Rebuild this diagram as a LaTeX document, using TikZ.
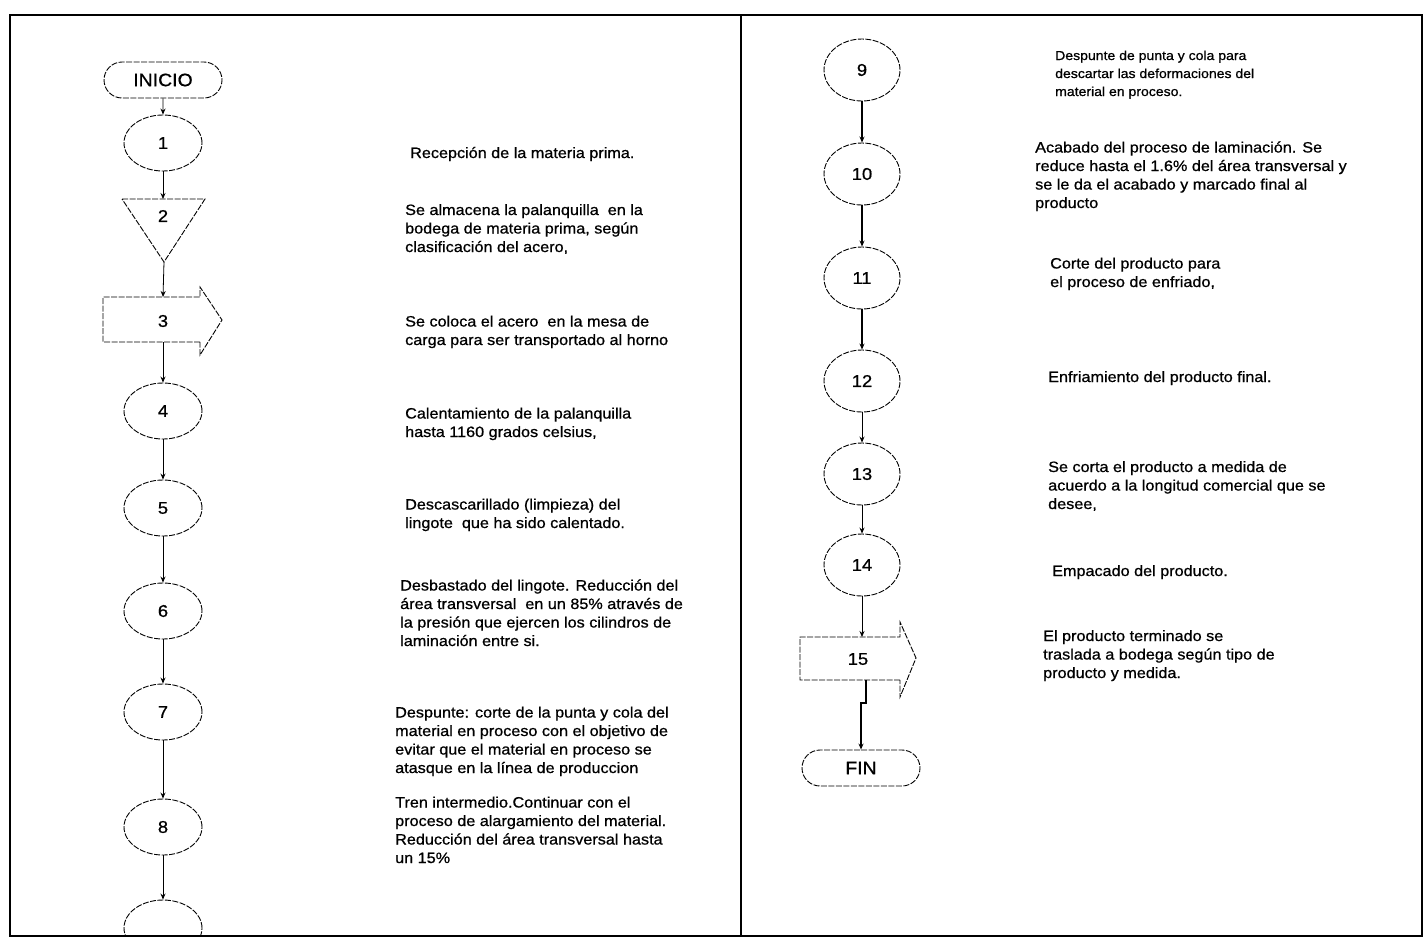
\documentclass[tikz,border=0pt]{standalone}
\usepackage{fontspec}
\setmainfont{Liberation Sans}[FakeStretch=1.08,FakeBold=0.8]
\usetikzlibrary{shapes.geometric,shapes.misc,arrows.meta}
\begin{document}
\begin{tikzpicture}[x=1pt,y=-1pt,
  shp/.style={draw, line width=0.9pt, dash pattern=on 6pt off 1.5pt, inner sep=0pt, font=\fontsize{17}{17}\selectfont},
  oval/.style={shp, ellipse, minimum width=78pt, minimum height=56pt},
  ovalr/.style={shp, ellipse, minimum width=76pt, minimum height=62pt},
  term/.style={shp, rounded rectangle, minimum width=118pt, minimum height=36pt, font=\fontsize{18}{18}\selectfont},
  lbl/.style={inner sep=0pt, font=\fontsize{17}{17}\selectfont},
  flow/.style={-{Stealth[length=6pt,width=5pt]}, line width=0.8pt},
  flowr/.style={-{Stealth[length=6pt,width=5pt]}, line width=1.2pt},
  desc/.style={anchor=base west, align=left, inner sep=0pt, font=\fontsize{15}{18.5}\selectfont},
  descs/.style={desc, font=\fontsize{13}{18}\selectfont},
  frame/.style={line width=1.4pt}]
\useasboundingbox (0,0) rectangle (1426,940);
% frame
\draw[frame] (10,15) rectangle (1422,936);
\draw[frame] (741,15) -- (741,936);

% ---------------- left column ----------------
\node[term] (ini) at (163,80) {INICIO};
\node[oval] (n1) at (163,143) {1};
\draw[shp] (122,199) -- (205,199) -- (164,262) -- cycle;
\coordinate (t2top) at (163,199);
\coordinate (t2apex) at (164,262);
\node[lbl] (n2) at (163,216) {2};
\draw[shp] (200,342) -- (103,342) -- (103,297) -- (200,297) -- (200,287) -- (222,320) -- (200,355) -- cycle;
\coordinate (a3top) at (163,297);
\coordinate (a3bot) at (163,342);
\node[lbl] (n3) at (163,321) {3};
\node[oval] (n4) at (163,411) {4};
\node[oval] (n5) at (163,508) {5};
\node[oval] (n6) at (163,611) {6};
\node[oval] (n7) at (163,712) {7};
\node[oval] (n8) at (163,827) {8};
\begin{scope}
\clip (100,880) rectangle (230,935);
\node[oval] (n9a) at (163,928) {};
\end{scope}

\draw[flow] (ini) -- (n1);
\draw[flow] (n1) -- (t2top);
\draw[flow] (t2apex) -- (a3top);
\draw[flow] (a3bot) -- (n4);
\draw[flow] (n4) -- (n5);
\draw[flow] (n5) -- (n6);
\draw[flow] (n6) -- (n7);
\draw[flow] (n7) -- (n8);
\draw[flow] (n8) -- (n9a.north);

% left descriptions (base = baseline of last line)
\node[desc] (d1) at (410,158) {Recepción de la materia prima.};
\node[desc] (d2) at (405,252) {Se almacena la palanquilla\ \ en la\\bodega de materia prima, según\\clasificación del acero,};
\node[desc] (d3) at (405,345) {Se coloca el acero\ \ en la mesa de\\carga para ser transportado al horno};
\node[desc] (d4) at (405,437) {Calentamiento de la palanquilla\\hasta 1160 grados celsius,};
\node[desc] (d5) at (405,528) {Descascarillado (limpieza) del\\lingote\ \ que ha sido calentado.};
\node[desc] (d6) at (400,646) {Desbastado del lingote. Reducción del\\área transversal\ \ en un 85\% através de\\la presión que ejercen los cilindros de\\laminación entre si.};
\node[desc] (d7) at (395,773) {Despunte: corte de la punta y cola del\\material en proceso con el objetivo de\\evitar que el material en proceso se\\atasque en la línea de produccion};
\node[desc] (d8) at (395,863) {Tren intermedio.Continuar con el\\proceso de alargamiento del material.\\Reducción del área transversal hasta\\un 15\%};

% ---------------- right column ----------------
\node[ovalr] (n9) at (862,70) {9};
\node[ovalr] (n10) at (862,174) {10};
\node[ovalr] (n11) at (862,278) {11};
\node[ovalr] (n12) at (862,381) {12};
\node[ovalr] (n13) at (862,474) {13};
\node[ovalr] (n14) at (862,565) {14};
\draw[shp] (900,680) -- (800,680) -- (800,637) -- (900,637) -- (900,622) -- (916,658) -- (900,697) -- cycle;
\coordinate (a15top) at (862,637);
\coordinate (a15bot) at (866,680);
\node[lbl] (n15) at (858,659) {15};
\node[term] (fin) at (861,768) {FIN};

\draw[flowr] (n9) -- (n10);
\draw[flowr] (n10) -- (n11);
\draw[flowr] (n11) -- (n12);
\draw[flow] (n12) -- (n13);
\draw[flow] (n13) -- (n14);
\draw[flow] (n14) -- (a15top);
\draw[flowr] (a15bot) -- ++(0,23) -| (fin.north);

% right descriptions
\node[descs] (d9) at (1055,96) {Despunte de punta y cola para\\descartar las deformaciones del\\material en proceso.};
\node[desc] (d10) at (1035,208) {Acabado del proceso de laminación. Se\\reduce hasta el 1.6\% del área transversal y\\se le da el acabado y marcado final al\\producto};
\node[desc] (d11) at (1050,287) {Corte del producto para\\el proceso de enfriado,};
\node[desc] (d12) at (1048,382) {Enfriamiento del producto final.};
\node[desc] (d13) at (1048,509) {Se corta el producto a medida de\\acuerdo a la longitud comercial que se\\desee,};
\node[desc] (d14) at (1052,576) {Empacado del producto.};
\node[desc] (d15) at (1043,678) {El producto terminado se\\traslada a bodega según tipo de\\producto y medida.};
\end{tikzpicture}
\end{document}
